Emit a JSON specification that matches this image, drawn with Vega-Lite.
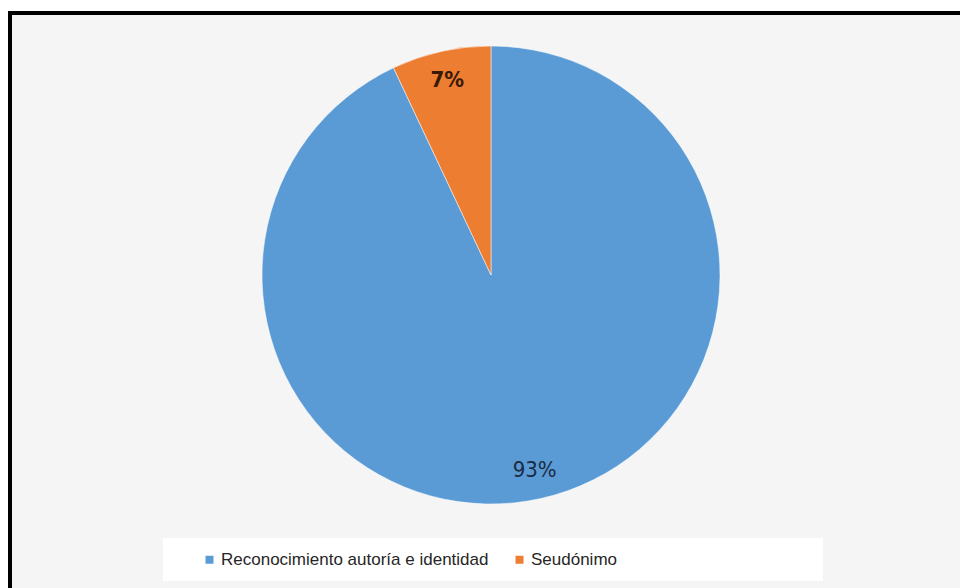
{
  "$schema": "https://vega.github.io/schema/vega-lite/v6.json",
  "width": 960,
  "height": 588,
  "padding": {"left": 10, "top": 13, "right": 0, "bottom": 0},
  "background": "#ffffff",
  "view": {"stroke": "#000000", "strokeWidth": 4, "fill": "#f5f5f5"},
  "config": {
    "font": "Liberation Sans"
  },
  "data": {
    "values": [
      {"category": "Reconocimiento autoría e identidad", "value": 93, "label": "93%"},
      {"category": "Seudónimo", "value": 7, "label": "7%"}
    ]
  },
  "encoding": {
    "theta": {"field": "value", "type": "quantitative", "stack": true},
    "order": {"field": "value", "type": "quantitative", "sort": "descending"}
  },
  "layer": [
    {
      "mark": {"type": "arc", "outerRadius": 229, "x": 481, "y": 262, "stroke": "#ffffff", "strokeWidth": 0.5},
      "encoding": {
        "color": {
          "field": "category",
          "type": "nominal",
          "scale": {"domain": ["Reconocimiento autoría e identidad", "Seudónimo"], "range": ["#5b9bd5", "#ed7d31"]},
          "legend": {
            "title": "\u2800\u2800",
            "titleOrient": "left",
            "titlePadding": 0,
            "titleFontSize": 16,
            "titleFont": "DejaVu Sans",
            "orient": "none",
            "direction": "horizontal",
            "legendX": 153,
            "legendY": 525,
            "padding": 13,
            "fillColor": "#ffffff",
            "symbolType": "square",
            "symbolSize": 64,
            "symbolStrokeWidth": 0,
            "labelFontSize": 17,
            "labelColor": "#262626",
            "labelFont": "Liberation Sans",
            "labelOffset": 3,
            "columnPadding": 22,
            "labelLimit": 600,
            "labelExpr": "datum.label == 'Seudónimo' ? datum.label + '\u2800\u2800\u2800\u2800\u2800\u2800\u2800\u2800\u2800\u2800\u2800\u2800\u2800\u2800\u2800\u2800' : datum.label"
          }
        }
      }
    },
    {
      "mark": {"type": "text", "radius": 200, "x": 481, "y": 262, "fontSize": 22, "fontWeight": "bold", "font": "DejaVu Sans Condensed, Liberation Sans", "baseline": "middle", "align": "center", "fill": "#3a1a05"},
      "encoding": {
        "text": {"field": "label"},
        "opacity": {"condition": {"test": "datum.category == 'Seudónimo'", "value": 1}, "value": 0}
      }
    },
    {
      "mark": {"type": "text", "radius": 200, "x": 481, "y": 262, "fontSize": 22, "font": "DejaVu Sans Condensed, Liberation Sans", "baseline": "middle", "align": "center", "fill": "#1c2a45"},
      "encoding": {
        "text": {"field": "label"},
        "opacity": {"condition": {"test": "datum.category == 'Seudónimo'", "value": 0}, "value": 1}
      }
    }
  ]
}
